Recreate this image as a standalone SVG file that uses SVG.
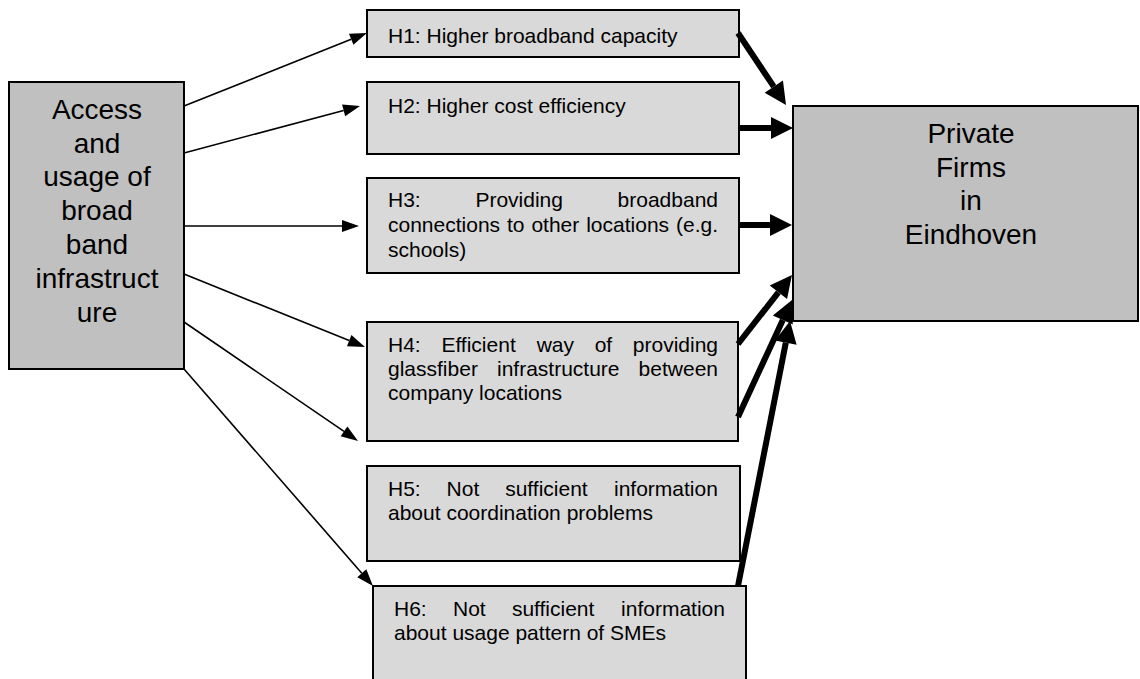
<svg xmlns="http://www.w3.org/2000/svg" width="1140" height="679" viewBox="0 0 1140 679">
<style>
.big{fill:#c0c0c0;stroke:#000;stroke-width:2}
.hb{fill:#d9d9d9;stroke:#000;stroke-width:2}
.bt{font-family:"Liberation Sans",Arial,sans-serif;font-size:28px;fill:#000;text-anchor:middle}
.ht{font-family:"Liberation Sans",Arial,sans-serif;font-size:21px;fill:#000}
.thin{stroke:#000;stroke-width:1.6;fill:none;marker-end:url(#ah)}
.thick{stroke:#000;stroke-width:6;fill:none;marker-end:url(#AH)}
</style>
<defs>
<marker id="ah" markerUnits="userSpaceOnUse" markerWidth="18" markerHeight="14" refX="0" refY="6" orient="auto" overflow="visible">
<path d="M0,0 L17,6 L0,12 z" fill="#000"/>
</marker>
<marker id="AH" markerUnits="userSpaceOnUse" markerWidth="23" markerHeight="23" refX="0" refY="11" orient="auto" overflow="visible">
<path d="M0,0 L22,11 L0,22 z" fill="#000"/>
</marker>
</defs>
<rect width="1140" height="679" fill="#fff"/>
<g id="access">
<rect class="big" x="9" y="82" width="175" height="287"/>
<text class="bt" x="97" y="119">Access</text>
<text class="bt" x="97" y="153">and</text>
<text class="bt" x="97" y="186">usage of</text>
<text class="bt" x="97" y="220">broad</text>
<text class="bt" x="97" y="254">band</text>
<text class="bt" x="97" y="288">infrastruct</text>
<text class="bt" x="97" y="322">ure</text>
</g>
<g id="private">
<rect class="big" x="793" y="106" width="345" height="215"/>
<text class="bt" x="971" y="143">Private</text>
<text class="bt" x="971" y="177">Firms</text>
<text class="bt" x="971" y="210">in</text>
<text class="bt" x="971" y="244">Eindhoven</text>
</g>
<g id="h1">
<rect class="hb" x="367" y="10" width="372" height="47"/>
<text class="ht" x="388" y="43">H1: Higher broadband capacity</text>
</g>
<g id="h2">
<rect class="hb" x="367" y="82" width="372" height="72"/>
<text class="ht" x="388" y="113">H2: Higher cost efficiency</text>
</g>
<g id="h3">
<rect class="hb" x="367" y="178" width="372" height="95"/>
<text class="ht" y="207"><tspan x="388">H3:</tspan> <tspan x="475.4">Providing</tspan> <tspan x="617.6">broadband</tspan></text>
<text class="ht" y="232"><tspan x="388">connections</tspan> <tspan x="507">to</tspan> <tspan x="531.4">other</tspan> <tspan x="586.2">locations</tspan> <tspan x="676">(e.g.</tspan></text>
<text class="ht" x="388" y="257">schools)</text>
</g>
<g id="h4">
<rect class="hb" x="367" y="322" width="371" height="119"/>
<text class="ht" y="352"><tspan x="388">H4:</tspan> <tspan x="441.4">Efficient</tspan> <tspan x="536.7">way</tspan> <tspan x="594.7">of</tspan> <tspan x="632.8">providing</tspan></text>
<text class="ht" y="376"><tspan x="388">glassfiber</tspan> <tspan x="497">infrastructure</tspan> <tspan x="638.6">between</tspan></text>
<text class="ht" x="388" y="400">company locations</text>
</g>
<g id="h5">
<rect class="hb" x="367" y="466" width="373" height="95"/>
<text class="ht" y="496"><tspan x="388">H5:</tspan> <tspan x="446.6">Not</tspan> <tspan x="505.2">sufficient</tspan> <tspan x="614">information</tspan></text>
<text class="ht" x="388" y="520">about coordination problems</text>
</g>
<g id="h6">
<rect class="hb" x="373" y="586" width="373" height="120"/>
<text class="ht" y="616"><tspan x="394">H6:</tspan> <tspan x="453">Not</tspan> <tspan x="511.9">sufficient</tspan> <tspan x="621.1">information</tspan></text>
<text class="ht" x="394" y="640">about usage pattern of SMEs</text>
</g>
<g id="connectors">
<line class="thin" x1="184" y1="106" x2="351.2" y2="39.3"/>
<line class="thin" x1="184" y1="153" x2="343.6" y2="110.4"/>
<line class="thin" x1="184" y1="226" x2="342" y2="226"/>
<line class="thin" x1="184" y1="274" x2="349.2" y2="340.6"/>
<line class="thin" x1="184" y1="322" x2="344" y2="431.4"/>
<line class="thin" x1="184" y1="369" x2="361.8" y2="573.2"/>
<line class="thick" x1="738" y1="33" x2="773.8" y2="86.7"/>
<line class="thick" x1="739" y1="128" x2="771" y2="128"/>
<line class="thick" x1="739" y1="225" x2="770" y2="225"/>
<line class="thick" x1="738" y1="344" x2="778.4" y2="292.3"/>
<line class="thick" x1="738" y1="417" x2="782.8" y2="320"/>
<line class="thick" x1="738" y1="586" x2="785.8" y2="342.6"/>
</g>
</svg>
